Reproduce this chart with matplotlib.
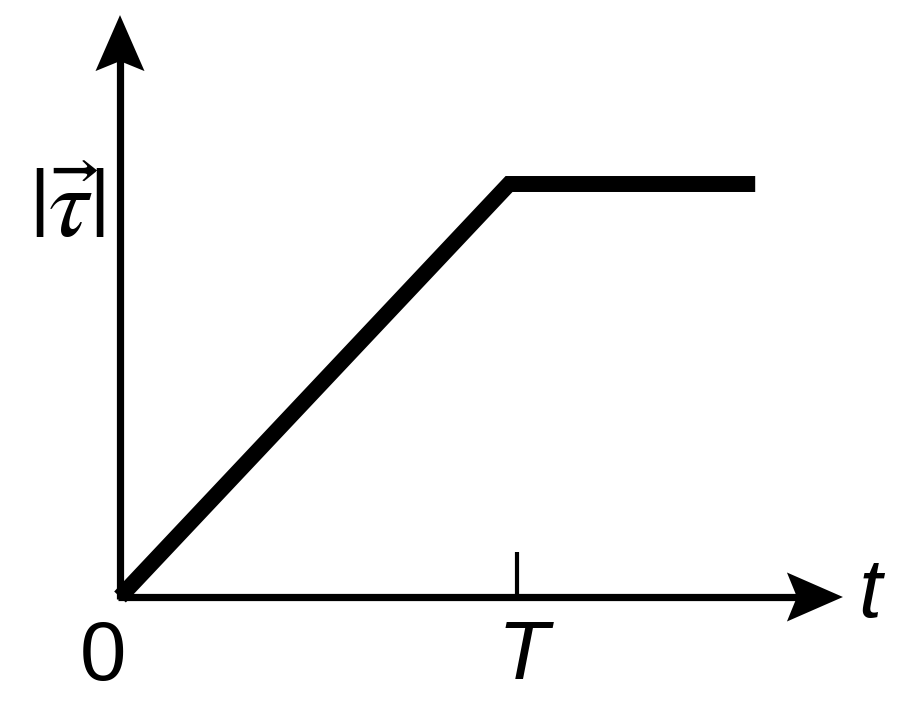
import matplotlib
matplotlib.use('Agg')
import matplotlib.pyplot as plt

# torque magnitude vs time: linear rise until ~T, then constant
t_vals = [0.0, 0.98, 1.6]
tau_vals = [0.0, 1.0, 1.0]
T_mark = 1.0

# scale: pixels per data unit (figure is 900x704 at dpi 100)
px_x = 397.0
px_y = 413.0

fig = plt.figure(figsize=(9, 7.04), dpi=100)
ax = fig.add_axes([0, 0, 1, 1])
ax.set_xlim(-120 / px_x, 780 / px_x)
ax.set_ylim((597 - 704) / px_y, 597 / px_y)
ax.axis('off')

# axes lines
x_end = 1.821
y_end = 1.409
ax.plot([-0.005, x_end - 40 / px_x], [0, 0], color='black', lw=5.2, solid_capstyle='butt')
ax.plot([0, 0], [-0.005, y_end - 40 / px_y], color='black', lw=5.2, solid_capstyle='butt')

# notched arrowheads
head_len, notch, half_w = 56, 46, 24.5
ax.fill([x_end, x_end - head_len / px_x, x_end - notch / px_x, x_end - head_len / px_x],
        [0, half_w / px_y, 0, -half_w / px_y], color='black', lw=0)
ax.fill([0, half_w / px_x, 0, -half_w / px_x],
        [y_end, y_end - head_len / px_y, y_end - notch / px_y, y_end - head_len / px_y],
        color='black', lw=0)

# tick at T
ax.plot([T_mark, T_mark], [0, 45 / px_y], color='black', lw=3, solid_capstyle='butt')

# the curve
ax.plot(t_vals, tau_vals, color='black', lw=11.5, solid_joinstyle='miter', solid_capstyle='butt')

# labels
ax.text(-17 / px_x, -61 / px_y, '0', fontsize=60, family='Liberation Sans',
        ha='center', va='center')
ax.text(T_mark + 6 / px_x, -60 / px_y, 'T', fontsize=60, family='Liberation Sans',
        style='italic', ha='center', va='center')
ax.text(750 / px_x, 2 / px_y, 't', fontsize=60, family='Liberation Sans',
        style='italic', ha='center', va='center')

plt.rcParams['mathtext.fontset'] = 'stix'
ax.text(-53 / px_x, 388 / px_y, r'$|\vec{\tau}|$', fontsize=72,
        ha='center', va='center')

fig.savefig('out.png', dpi=100)
